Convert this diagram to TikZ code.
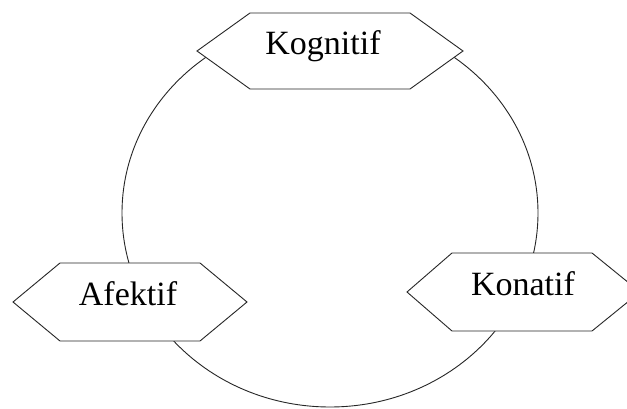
\documentclass[tikz,border=0pt]{standalone}
\usepackage{fontspec}
\setmainfont{Liberation Serif}
\begin{document}
\begin{tikzpicture}[x=1pt,y=1pt,
  hexbox/.style={draw=black!85, fill=white, line width=0.9pt, line join=miter},
  ring/.style={draw=black!85, line width=0.9pt},
  label/.style={anchor=base, inner sep=0pt, font=\fontsize{34}{38}\selectfont}]
\clip (0,0) rectangle (627,-409);
\useasboundingbox (0,0) rectangle (627,-409);
\fill[white] (0,0) rectangle (627,-409);
% ring
\draw[ring] (330,-213) ellipse [x radius=208pt, y radius=194pt];
% Kognitif
\draw[hexbox] (197,-51) -- (250,-13) -- (410,-13) -- (463,-51) -- (410,-89) -- (250,-89) -- cycle;
\node[label] (kog) at (323,-55) {Kognitif};
% Afektif
\draw[hexbox] (13,-302) -- (60,-263) -- (200,-263) -- (247,-302) -- (200,-341) -- (60,-341) -- cycle;
\node[label] (afe) at (128,-305) {Afektif};
% Konatif
\draw[hexbox] (407,-292) -- (452,-253) -- (592,-253) -- (640,-292) -- (592,-331) -- (452,-331) -- cycle;
\node[label] (kon) at (523,-295) {Konatif};
\end{tikzpicture}
\end{document}
